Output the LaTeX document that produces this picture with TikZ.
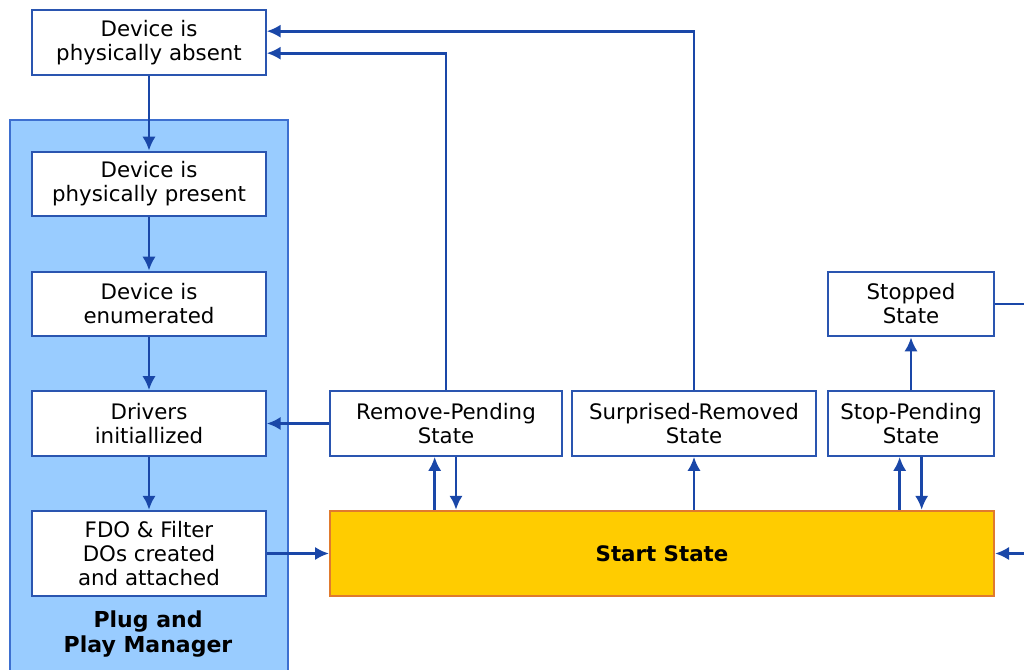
\documentclass[tikz,border=0pt]{standalone}
\usepackage{fontspec}
\setmainfont{DejaVu Sans}
\usetikzlibrary{arrows.meta,positioning}
\definecolor{lineblue}{HTML}{1A47A8}
\definecolor{boxblue}{HTML}{2A55B0}
\definecolor{panelfill}{HTML}{99CCFF}
\definecolor{panelline}{HTML}{3D6FD0}
\definecolor{startfill}{HTML}{FFCC00}
\definecolor{startline}{HTML}{E07A2E}

\begin{document}
\begin{tikzpicture}[
      x=0.75pt, y=-0.75pt,
      statebox/.style={
         rectangle,
         draw=boxblue,
         fill=white,
         line width=1.5pt,
         align=center,
         inner sep=0pt,
         minimum width=175pt,
         minimum height=48.5pt,
         font=\fontsize{16}{18}\selectfont},
      startbox/.style={
         statebox,
         draw=startline,
         fill=startfill,
         font=\fontsize{16}{18}\selectfont\bfseries},
      myarrow/.style={-{Latex[length=10.5pt,width=10pt]}, draw=lineblue, line width=2.2pt},
      myline/.style={draw=lineblue, line width=2.2pt}
      ]
      \useasboundingbox (0,0) rectangle (1024,670);
      % plug and play manager panel
      \draw[fill=panelfill, draw=panelline, line width=1.5pt] (10,120) rectangle (288,680);
      \node[font=\fontsize{16.5}{19}\selectfont\bfseries, align=center] (pnp) at (148,634) {Plug and\\Play Manager};

      \node[statebox] (absent) at (149,42.5) {Device is\\physically absent};
      \node[statebox] (present) at (149,184) {Device is\\physically present};
      \node[statebox] (enum) at (149,304) {Device is\\enumerated};
      \node[statebox] (drivers) at (149,423.5) {Drivers\\initiallized};
      \node[statebox, minimum height=64pt] (fdo) at (149,553.5) {FDO \& Filter\\DOs created\\and attached};

      \node[statebox, minimum width=174pt] (rp) at (446,423.5) {Remove-Pending\\State};
      \node[statebox, minimum width=183pt] (sr) at (694,423.5) {Surprised-Removed\\State};
      \node[statebox, minimum width=124.5pt] (sp) at (911,423.5) {Stop-Pending\\State};
      \node[statebox, minimum width=124.5pt] (stopped) at (911,304) {Stopped\\State};
      \node[startbox, minimum width=498pt, minimum height=64pt] (start) at (662,553.5) {Start State};

      \coordinate (outr1) at (1030,304);
      \coordinate (outr2) at (1030,553.5);

    \foreach \i/\j in {% start node/end node
      absent/present,
      present/enum,
      enum/drivers,
      drivers/fdo,
      fdo/start,
      rp/drivers,
      sp/stopped,
      outr2/start}
       \draw [myarrow] (\i) -- (\j);

    \draw [myarrow] (start.north -| sr) -- (sr);
    \draw [myarrow] ([xshift=-8.5pt]rp.south |- start.north) -- ([xshift=-8.5pt]rp.south);
    \draw [myarrow] ([xshift=7.5pt]rp.south) -- ([xshift=7.5pt]rp.south |- start.north);
    \draw [myarrow] ([xshift=-8.5pt]sp.south |- start.north) -- ([xshift=-8.5pt]sp.south);
    \draw [myarrow] ([xshift=8pt]sp.south) -- ([xshift=8pt]sp.south |- start.north);
    \draw [myarrow] (rp.north) |- ([yshift=-8pt]absent.east);
    \draw [myarrow] (sr.north) |- ([yshift=8.5pt]absent.east);
    \draw [myline] (stopped.east) -- (outr1);

     \end{tikzpicture}
\end{document}
